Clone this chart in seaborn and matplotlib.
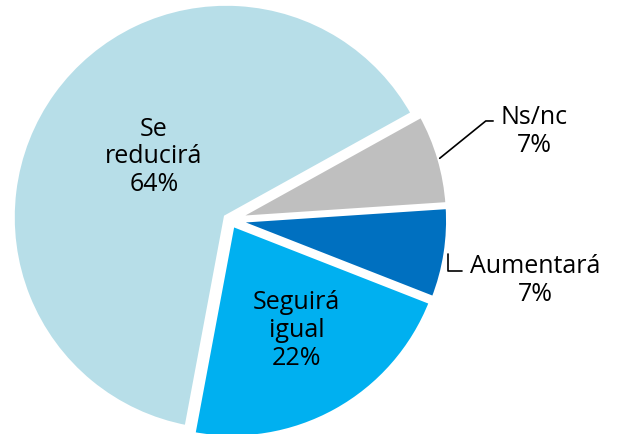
import numpy as np
import matplotlib
matplotlib.use("Agg")
import matplotlib.pyplot as plt
import seaborn as sns

# Datos del gráfico (sentido horario desde arriba a la derecha)
categorias = ["Ns/nc", "Aumentará", "Seguirá igual", "Se reducirá"]
etiquetas = ["Ns/nc", "Aumentará", "Seguirá\nigual", "Se\nreducirá"]
porcentajes = [7, 7, 22, 64]
colores = ["#BFBFBF", "#0070C0", "#00B0F0", "#B7DEE8"]

sns.set_style("white")
plt.rcParams["font.family"] = ["Open Sans", "DejaVu Sans"]

fig = plt.figure(figsize=(6.17, 4.35), dpi=100)
ax = fig.add_axes([0, 0, 1, 1])

radio = 214
centro = (230, 214)
wedges, _ = ax.pie(
    porcentajes,
    colors=colores,
    startangle=29,
    counterclock=False,
    radius=radio,
    center=centro,
    explode=[4.6] * len(porcentajes),
    wedgeprops=dict(edgecolor="white", linewidth=3.6),
)
ax.set_xlim(0, 617)
ax.set_ylim(0, 435)
ax.set_aspect("equal")
ax.axis("off")


def punto(w, dist, dang=0.0):
    ang = np.deg2rad((w.theta1 + w.theta2) / 2 + dang)
    cx, cy = w.center
    return cx + dist * radio * np.cos(ang), cy + dist * radio * np.sin(ang)


fs = 18
# etiquetas dentro de las porciones
for i, (dist, dang) in {2: (0.577, 2.3), 3: (0.444, -4.5)}.items():
    x, y = punto(wedges[i], dist, dang)
    ax.text(x, y, f"{etiquetas[i]}\n{porcentajes[i]}%", ha="center", va="center",
            fontsize=fs, color="black", linespacing=1.15)

# etiquetas externas con líneas guía
x0, y0 = punto(wedges[0], 1.0)
ax.annotate(f"{etiquetas[0]}\n{porcentajes[0]}%", xy=(x0, y0), xytext=punto(wedges[0], 1.46),
            ha="center", va="center", fontsize=fs, color="black", linespacing=1.15,
            arrowprops=dict(arrowstyle="-", color="black", lw=1.2, shrinkA=3, shrinkB=0,
                            relpos=(0, 0.68),
                            connectionstyle="angle,angleA=0,angleB=39,rad=0"))

x1, y1 = punto(wedges[1], 1.01)
ax.annotate(f"{etiquetas[1]}\n{porcentajes[1]}%", xy=(x1, y1), xytext=punto(wedges[1], 1.43, -2.2),
            ha="center", va="center", fontsize=fs, color="black", linespacing=1.15,
            arrowprops=dict(arrowstyle="-", color="black", lw=1.2, shrinkA=3, shrinkB=0,
                            relpos=(0, 0.66),
                            connectionstyle="angle,angleA=0,angleB=90,rad=0"))

fig.savefig("out.png", dpi=100)
